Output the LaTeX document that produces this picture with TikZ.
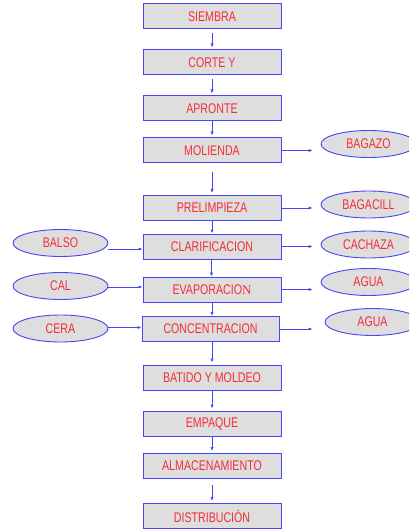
\documentclass[tikz,border=0pt]{standalone}
\usepackage{fontspec}
\setmainfont{Liberation Sans}[FakeStretch=0.76]
\newfontfamily\serifN{Liberation Serif}
\usetikzlibrary{arrows.meta,shapes.geometric}
\definecolor{boxblue}{RGB}{70,70,245}
\definecolor{boxfill}{RGB}{222,222,222}
\definecolor{txtred}{RGB}{245,45,55}
\tikzset{
  procbox/.style={draw=boxblue, line width=1pt, fill=boxfill, minimum width=138pt, minimum height=25pt, inner sep=0pt, text=txtred, font=\fontsize{14}{14}\selectfont},
  sidebox/.style={ellipse, draw=boxblue, line width=0.9pt, fill=boxfill, minimum width=95pt, minimum height=27pt, inner sep=0pt, text=txtred, font=\fontsize{14}{14}\selectfont},
  flow/.style={draw=boxblue, line width=0.7pt, -{Latex[length=4pt,width=3.2pt]}},
}
\begin{document}
\begin{tikzpicture}[x=1pt,y=-1pt]
\useasboundingbox (0,0) rectangle (409,529);
\clip (0,0) rectangle (409,529);
% process boxes
\node[procbox] (siem) at (212,16.5) {SIEMBRA};
\node[procbox] (cort) at (212,62.5) {CORTE Y};
\node[procbox] (apro) at (212,108.5) {APRONTE};
\node[procbox] (mol) at (212,150.5) {MOLIENDA};
\node[procbox] (pre) at (212,208) {PRELIMPIEZA};
\node[procbox] (cla) at (212,246.5) {CLARIFICACION};
\node[procbox] (eva) at (212,289.5) {EVAPORACIO{\serifN\fontsize{13}{13}\selectfont N}};
\node[procbox, minimum width=137pt] (con) at (210.5,329) {CONCENTRACION};
\node[procbox] (bat) at (212,377.5) {BATIDO Y MOLDEO};
\node[procbox] (emp) at (212,423.5) {EMPAQUE};
\node[procbox] (alm) at (212,466) {ALMACENAMIENTO};
\node[procbox] (dis) at (212,516) {DISTRIBUCIÓN};
% side ellipses
\node[sidebox] (balso) at (60.5,243) {BALSO};
\node[sidebox] (cal) at (60.5,286) {CAL};
\node[sidebox] (cera) at (60.5,328.5) {CERA};
\node[sidebox] (bagazo) at (368.5,144) {BAGAZO};
\node[sidebox] (bagacill) at (368.5,204.5) {BAGACILL};
\node[sidebox] (cachaza) at (368.5,244.5) {CACHAZA};
\node[sidebox] (agua1) at (368.5,282) {AGUA};
\node[sidebox] (agua2) at (372.5,322) {AGUA};
% vertical flow
\draw[flow, shorten <=4pt, shorten >=2pt] (siem) -- (cort);
\draw[flow, shorten <=4pt, shorten >=2pt] (cort) -- (apro);
\draw[flow, shorten >=2pt] (apro) -- (mol);
\draw[flow, shorten <=9pt, shorten >=2pt] (mol) -- (pre);
\draw[flow] (pre) -- (cla);
\draw[flow] ([xshift=-0.5pt]cla.south) -- ([xshift=-0.5pt]cla.south |- eva.north);
\draw[flow] (eva.south) -- (eva.south |- con.north);
\draw[flow, shorten >=2pt] (con.south -| eva.south) -- (eva.south |- bat.north);
\draw[flow, shorten >=2pt] (bat) -- (emp);
\draw[flow, shorten >=2pt] (emp) -- (alm);
\draw[flow, shorten <=6pt, shorten >=2pt] (alm) -- (dis);
% left inputs
\draw[flow] ([yshift=-6pt]balso.east) -- ([yshift=-6pt]balso.east -| cla.west);
\draw[flow] ([yshift=-1pt]cal.east) -- ([yshift=-1pt]cal.east -| eva.west);
\draw[flow] ([yshift=1pt]cera.east) -- ([yshift=1pt]cera.east -| con.west);
% right outputs
\draw[flow, shorten >=8pt] (mol.east) -- (mol.east -| bagazo.west);
\draw[flow, shorten >=8pt] (pre.east) -- (pre.east -| bagacill.west);
\draw[flow, shorten >=8pt] (cla.east) -- (cla.east -| cachaza.west);
\draw[flow, shorten >=8pt] (eva.east) -- (eva.east -| agua1.west);
\draw[flow, shorten >=12pt] (con.east) -- (con.east -| agua2.west);
\end{tikzpicture}
\end{document}
